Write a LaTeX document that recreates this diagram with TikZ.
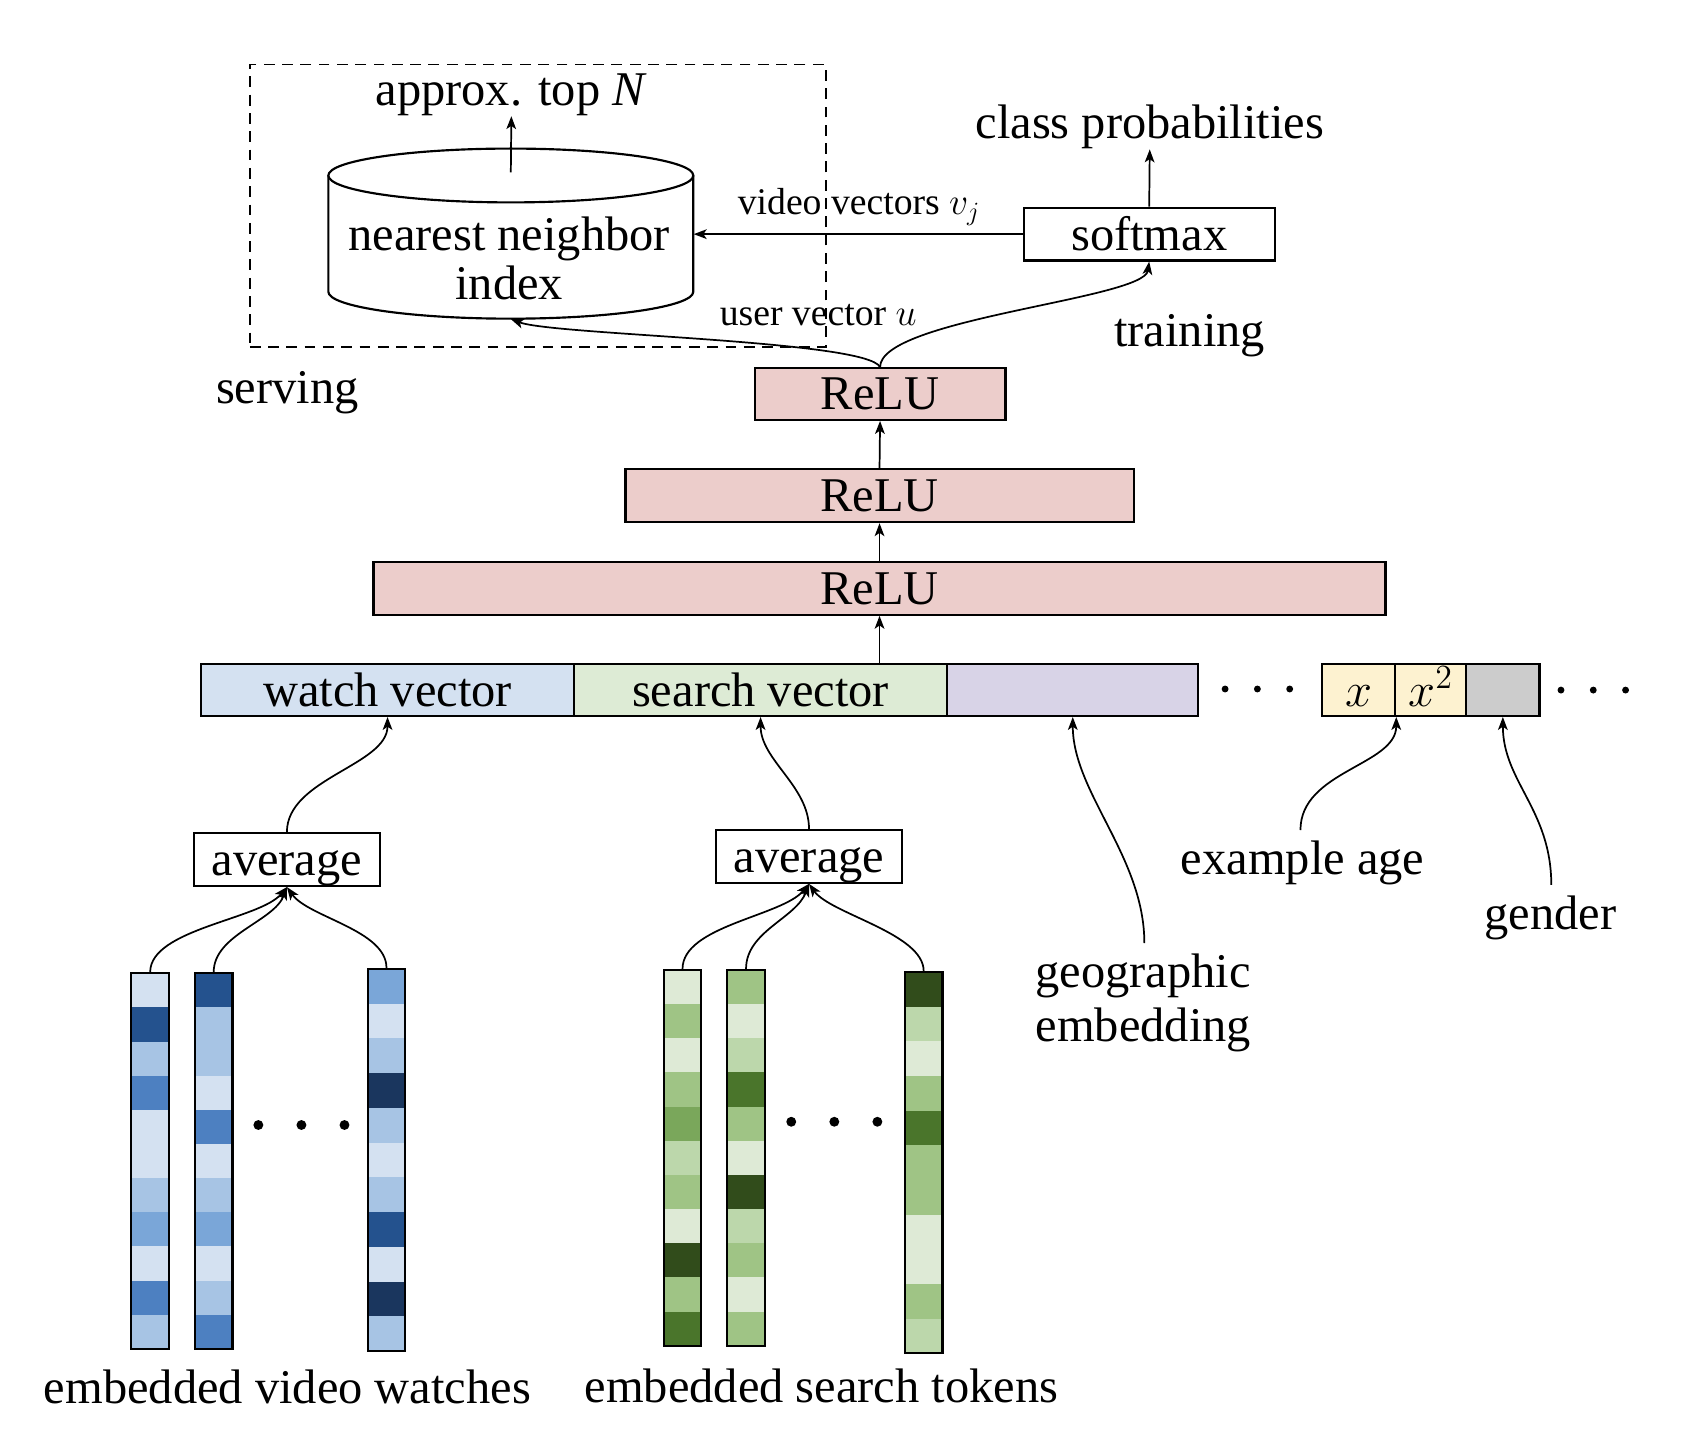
\documentclass[tikz,border=0pt]{standalone}
\usepackage{fix-cm}
\usepackage{fontspec}
\setmainfont{Liberation Serif}
\usetikzlibrary{arrows.meta,calc}
\definecolor{bL}{HTML}{D4E1F1}
\definecolor{bM}{HTML}{A7C4E4}
\definecolor{bN}{HTML}{7AA6D8}
\definecolor{bO}{HTML}{4D80C1}
\definecolor{bD}{HTML}{24528E}
\definecolor{bV}{HTML}{1A365E}
\definecolor{gL}{HTML}{DEEAD6}
\definecolor{gT}{HTML}{BCD7AB}
\definecolor{gM}{HTML}{9FC485}
\definecolor{gN}{HTML}{7AA75B}
\definecolor{gD}{HTML}{4A752B}
\definecolor{gV}{HTML}{314C1B}
\definecolor{reluC}{HTML}{ECCDCB}
\definecolor{watchC}{HTML}{D4E1F1}
\definecolor{searchC}{HTML}{DDEBD5}
\definecolor{geoC}{HTML}{D8D3E7}
\definecolor{ageC}{HTML}{FDF2D0}
\definecolor{genC}{HTML}{CCCCCC}
\newcommand\embcol[5]{%
  \foreach \c [count=\i from 0] in {#5} {
    \fill[\c] ({#2-17.5},{#3+\i*(#4-#3)/11}) rectangle ({#2+17.5},{#3+(\i+1)*(#4-#3)/11});
  }
  \pgfmathsetmacro\colh{(#4-#3)/2}
  \node[draw, line width=1pt, minimum width=17.5pt, minimum height=\colh pt, inner sep=0pt] (#1) at (#2,{(#3+#4)/2}) {};
}
\begin{document}
\begin{tikzpicture}[x=0.5pt,y=-0.5pt,
  big/.style={font=\fontsize{22.5}{27}\selectfont},
  small/.style={font=\fontsize{17.5}{20}\selectfont},
  box/.style={draw, line width=1pt, inner sep=0pt, big, text height=17pt, text depth=2.2pt},
  lbl/.style={big, inner sep=0pt},
  conn/.style={-{Stealth[length=6pt,width=4.5pt,inset=1.5pt]}, line width=0.8pt},
  dotS/.style={fill=black, circle, inner sep=0pt, minimum size=3.2pt},
  dotB/.style={fill=black, circle, inner sep=0pt, minimum size=4.6pt}]
\useasboundingbox (0,0) rectangle (1568,1330.2);

% serving box
\node[draw, dashed, dash pattern=on 5pt off 3.5pt, line width=0.8pt, minimum width=267.5pt, minimum height=131pt, inner sep=0pt] (serve) at (499.5,191) {};
\node[lbl] (servtxt) at (267,365) {serving};

% cylinder
\node[inner sep=0pt, minimum width=169.5pt, minimum height=79pt] (nn) at (474.5,217) {};
\draw[line width=1pt, fill=white] (305,163) -- (305,271) arc[start angle=180, end angle=0, x radius=169.5, y radius=25] -- (644,163);
\draw[line width=1pt, fill=white] (474.5,163) ellipse [x radius=169.5, y radius=25];
\coordinate (nntop) at (474.5,160);
\node[lbl, align=center] (nntxt) at (473,240) {nearest neighbor\\[-4pt]index};
\node[lbl] (topn) at (475,88) {approx. top \textit{N}};
\draw[conn] (nntop) -- (topn.south);

% softmax
\node[box, minimum width=116.5pt, minimum height=24.5pt] (soft) at (1067.5,217.5) {softmax};
\node[lbl] (classp) at (1068,118) {class probabilities};
\draw[conn] (soft.north) -- (classp.south);
\draw[conn] (soft.west) -- (soft.west -| nn.east);
\node[small, inner sep=0pt] (vvtxt) at (798,192) {video vectors $v_j$};

% ReLUs
\node[box, fill=reluC, minimum width=116.5pt, minimum height=24pt] (relu1) at (817.5,366) {ReLU};
\node[box, fill=reluC, minimum width=236pt, minimum height=24.5pt] (relu2) at (817,460.5) {ReLU};
\node[box, fill=reluC, minimum width=470pt, minimum height=24.5pt] (relu3) at (817,546.5) {ReLU};
\draw[conn] (relu2.north) -- (relu1.south);
\draw[conn] (relu3.north) -- (relu2.south);

\node[small, inner sep=0pt] (uvtxt) at (760,293) {user vector $u$};
\node[lbl] (train) at (1105,312) {training};
\draw[conn] (relu1.north) .. controls +(-12,-25) and +(40,15) .. (nn.south);
\draw[conn] (relu1.north) .. controls +(0,-45) and +(-5,35) .. (soft.south);

% feature row
\node[box, fill=watchC, minimum width=173pt, minimum height=24pt] (watch) at (360,641) {watch vector};
\node[box, fill=searchC, minimum width=173.5pt, minimum height=24pt] (search) at (706.5,641) {search vector};
\node[box, fill=geoC, minimum width=116.5pt, minimum height=24pt] (geo) at (996.5,641) {};
\node[box, fill=ageC, minimum width=34pt, minimum height=24pt] (xa) at (1262,641) {$x$};
\node[box, fill=ageC, minimum width=33pt, minimum height=24pt] (xb) at (1329,641) {$x^2$};
\node[box, fill=genC, minimum width=34pt, minimum height=24pt] (gen) at (1396,641) {};
\draw[conn] (search.north -| relu3.south) -- (relu3.south);
\foreach \x in {1138,1168,1198} \node[dotS] at (\x,640) {};
\foreach \x in {1450,1480,1510} \node[dotS] at (\x,641) {};

% averages
\node[box, minimum width=86.5pt, minimum height=24.5pt] (avg1) at (266.5,798.5) {average};
\node[box, minimum width=86.5pt, minimum height=24.5pt] (avg2) at (751.5,795.5) {average};
\draw[conn] (avg1.north) .. controls +(0,-50) and +(0,45) .. (watch.south);
\draw[conn] (avg2.north) .. controls +(0,-40) and +(0,40) .. (search.south);

% side features
\node[lbl, align=left, anchor=north] (geotxt) at (1062,886) {geographic\\[-2pt]embedding};
\node[lbl, anchor=north] (agetxt) at (1210,781) {example age};
\node[lbl, anchor=north] (gentxt) at (1440,832) {gender};
\draw[conn] ($(geotxt.north)+(1,-10)$) .. controls +(0,-80) and +(0,70) .. (geo.south);
\draw[conn] ($(agetxt.north)+(-2,-10)$) .. controls +(0,-55) and +(0,45) .. (xa.south east);
\draw[conn] ($(gentxt.north)+(1,-10)$) .. controls +(0,-70) and +(0,60) .. (gen.south);

% embedding columns
\embcol{b1}{139.5}{904}{1253}{bL,bD,bM,bO,bL,bL,bM,bN,bL,bO,bM}
\embcol{b2}{198.5}{904}{1253}{bD,bM,bM,bL,bO,bL,bM,bN,bL,bM,bO}
\embcol{b3}{359}{900}{1255}{bN,bL,bM,bV,bM,bL,bM,bD,bL,bV,bM}
\embcol{g1}{634}{901}{1250}{gL,gM,gL,gM,gN,gT,gM,gL,gV,gM,gD}
\embcol{g2}{693}{901}{1250}{gM,gL,gT,gD,gM,gL,gV,gT,gM,gL,gM}
\embcol{g3}{858}{903}{1257}{gV,gT,gL,gM,gD,gM,gM,gL,gL,gM,gT}
\foreach \x in {240,280,320} \node[dotB] at (\x,1045) {};
\foreach \x in {735,775,815} \node[dotB] at (\x,1042) {};

\draw[conn] (b1.north) .. controls +(0,-40) and +(-25,30) .. (avg1.south);
\draw[conn] (b2.north) .. controls +(0,-35) and +(-12,32) .. (avg1.south);
\draw[conn] (b3.north) .. controls +(0,-35) and +(20,28) .. (avg1.south);
\draw[conn] (g1.north) .. controls +(0,-40) and +(-25,30) .. (avg2.south);
\draw[conn] (g2.north) .. controls +(0,-35) and +(-12,32) .. (avg2.south);
\draw[conn] (g3.north) .. controls +(0,-35) and +(20,28) .. (avg2.south);

\node[lbl] (evw) at (267,1288) {embedded video watches};
\node[lbl] (est) at (763,1287) {embedded search tokens};
\end{tikzpicture}
\end{document}
